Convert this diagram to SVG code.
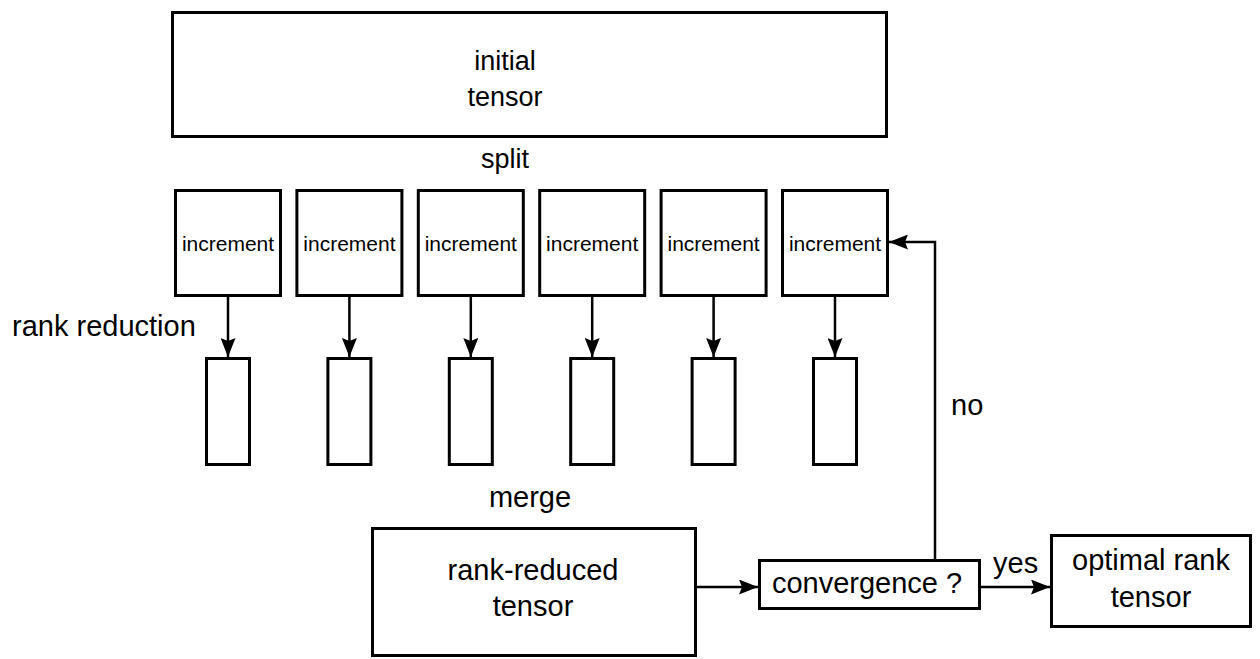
<svg xmlns="http://www.w3.org/2000/svg" width="1260" height="659" viewBox="0 0 1260 659">
<style>
.box{fill:#fff;stroke:#000;stroke-width:3;stroke-linejoin:miter}
.t{font-family:"Liberation Sans",Arial,sans-serif;fill:#000}
.c{text-anchor:middle}
.s29{font-size:29px}
.s27{font-size:27px}
.s21{font-size:21px}
.edge{fill:none;stroke:#000;stroke-width:2.5;marker-end:url(#ah)}
</style>
<defs>
<marker id="ah" viewBox="0 0 19 15" refX="19" refY="7.5" markerWidth="19" markerHeight="15" markerUnits="userSpaceOnUse" orient="auto">
<path d="M0,0 L19,7.5 L0,15 L3,7.5 z" fill="#000"/>
</marker>
</defs>
<rect width="1260" height="659" fill="#fff"/>
<g id="initial">
<rect class="box" x="172.5" y="12.5" width="714" height="124"/>
<text class="t c s27" x="505" y="70">initial</text>
<text class="t c s27" x="505" y="106">tensor</text>
</g>
<text class="t c s27" x="505" y="168">split</text>
<g id="inc1"><rect class="box" x="175.5" y="190.5" width="105" height="105"/><text class="t c s21" x="228" y="251">increment</text></g>
<g id="inc2"><rect class="box" x="296.9" y="190.5" width="105" height="105"/><text class="t c s21" x="349.4" y="251">increment</text></g>
<g id="inc3"><rect class="box" x="418.3" y="190.5" width="105" height="105"/><text class="t c s21" x="470.8" y="251">increment</text></g>
<g id="inc4"><rect class="box" x="539.7" y="190.5" width="105" height="105"/><text class="t c s21" x="592.2" y="251">increment</text></g>
<g id="inc5"><rect class="box" x="661.1" y="190.5" width="105" height="105"/><text class="t c s21" x="713.6" y="251">increment</text></g>
<g id="inc6"><rect class="box" x="782.5" y="190.5" width="105" height="105"/><text class="t c s21" x="835" y="251">increment</text></g>
<text class="t s29" x="12" y="336">rank reduction</text>
<g id="red1"><rect class="box" x="206.5" y="358.5" width="43" height="106"/></g>
<g id="red2"><rect class="box" x="327.9" y="358.5" width="43" height="106"/></g>
<g id="red3"><rect class="box" x="449.3" y="358.5" width="43" height="106"/></g>
<g id="red4"><rect class="box" x="570.7" y="358.5" width="43" height="106"/></g>
<g id="red5"><rect class="box" x="692.1" y="358.5" width="43" height="106"/></g>
<g id="red6"><rect class="box" x="813.5" y="358.5" width="43" height="106"/></g>
<text class="t c s29" x="530" y="507">merge</text>
<g id="rankreduced">
<rect class="box" x="372.5" y="528.5" width="323" height="127"/>
<text class="t c s29" x="533" y="580">rank-reduced</text>
<text class="t c s29" x="533" y="616">tensor</text>
</g>
<g id="convergence">
<rect class="box" x="759.5" y="560.5" width="220" height="48"/>
<text class="t c s29" x="867" y="593">convergence ?</text>
</g>
<g id="optimal">
<rect class="box" x="1051.5" y="535.5" width="199" height="91"/>
<text class="t c s29" x="1151" y="570">optimal rank</text>
<text class="t c s29" x="1151" y="607">tensor</text>
</g>
<g id="connectors">
<line class="edge" x1="228" y1="297" x2="228" y2="357"/>
<line class="edge" x1="349.4" y1="297" x2="349.4" y2="357"/>
<line class="edge" x1="470.8" y1="297" x2="470.8" y2="357"/>
<line class="edge" x1="592.2" y1="297" x2="592.2" y2="357"/>
<line class="edge" x1="713.6" y1="297" x2="713.6" y2="357"/>
<line class="edge" x1="835" y1="297" x2="835" y2="357"/>
<line class="edge" x1="697" y1="587" x2="758" y2="587"/>
<line class="edge" x1="981" y1="587" x2="1050" y2="587"/>
<path class="edge" d="M935,559 V242 H889"/>
<text class="t s29" x="951" y="415">no</text>
<text class="t s29" x="993" y="573">yes</text>
</g>
</svg>
